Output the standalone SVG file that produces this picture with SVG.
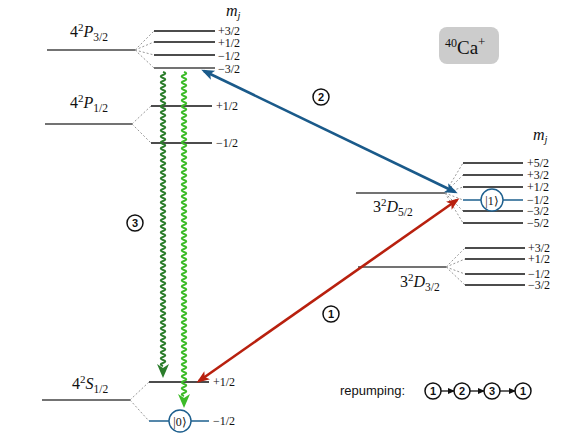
<svg xmlns="http://www.w3.org/2000/svg" width="581" height="436" viewBox="0 0 581 436">
<style>
.main{stroke:#444;stroke-width:1.3;fill:none}
.sub{stroke:#111;stroke-width:1.3;fill:none}
.qb{stroke:#1d5f8e;stroke-width:1.3;fill:none}
.dash{stroke:#999;stroke-width:1;stroke-dasharray:2,2;fill:none}
.lab{font-family:"Liberation Serif",serif;font-size:16px;fill:#111}
.mj{font-family:"Liberation Serif",serif;font-size:12px;fill:#111}
.cn{font-family:"Liberation Sans",Arial,sans-serif;font-size:11px;font-weight:bold;fill:#111;text-anchor:middle}
.cc{fill:#fff;stroke:#111;stroke-width:1.5}
.sans{font-family:"Liberation Sans",Arial,sans-serif;font-size:13px;fill:#111}
</style>
<defs>
<marker id="ab" markerUnits="userSpaceOnUse" markerWidth="14" markerHeight="12" refX="10" refY="5" orient="auto-start-reverse"><path d="M0,0 L13,5 L0,10 L3,5 z" fill="#1a5a8a"/></marker>
<marker id="ar" markerUnits="userSpaceOnUse" markerWidth="14" markerHeight="12" refX="10" refY="5" orient="auto-start-reverse"><path d="M0,0 L13,5 L0,10 L3,5 z" fill="#b8200e"/></marker>
<marker id="ak" markerUnits="userSpaceOnUse" markerWidth="8" markerHeight="8" refX="6" refY="3" orient="auto"><path d="M0,0 L7,3 L0,6 z" fill="#111"/></marker>
</defs>

<g id="P32">
<line class="main" x1="47" y1="50" x2="135" y2="50"/>
<line class="dash" x1="135" y1="50" x2="154" y2="31"/>
<line class="dash" x1="135" y1="50" x2="154" y2="42"/>
<line class="dash" x1="135" y1="50" x2="154" y2="55"/>
<line class="dash" x1="135" y1="50" x2="154" y2="68"/>
<line class="sub" x1="154" y1="31" x2="215" y2="31"/>
<line class="sub" x1="154" y1="42" x2="215" y2="42"/>
<line class="sub" x1="154" y1="55" x2="215" y2="55"/>
<line class="main" x1="154" y1="68" x2="215" y2="68"/>
<text class="lab" x="70" y="37">4<tspan dy="-6" font-size="11">2</tspan><tspan dy="6" font-style="italic">P</tspan><tspan dy="4" font-size="11.5">3/2</tspan></text>
<text class="mj" x="218" y="35">+3/2</text>
<text class="mj" x="218" y="47">+1/2</text>
<text class="mj" x="218" y="60">−1/2</text>
<text class="mj" x="218" y="73">−3/2</text>
<text class="lab" x="226" y="16"><tspan font-style="italic">m</tspan><tspan dy="3" font-size="10.5" font-style="italic">j</tspan></text>
</g>

<g id="P12">
<line class="main" x1="45" y1="124" x2="132" y2="124"/>
<line class="dash" x1="132" y1="124" x2="151" y2="106"/>
<line class="dash" x1="132" y1="124" x2="151" y2="143"/>
<line class="sub" x1="151" y1="106" x2="212" y2="106"/>
<line class="sub" x1="151" y1="143" x2="212" y2="143"/>
<text class="lab" x="70" y="108">4<tspan dy="-6" font-size="11">2</tspan><tspan dy="6" font-style="italic">P</tspan><tspan dy="4" font-size="11.5">1/2</tspan></text>
<text class="mj" x="216" y="110">+1/2</text>
<text class="mj" x="216" y="147">−1/2</text>
</g>

<g id="S12">
<line class="main" x1="42" y1="400" x2="130" y2="400"/>
<line class="dash" x1="130" y1="400" x2="149" y2="382"/>
<line class="dash" x1="130" y1="400" x2="149" y2="421"/>
<line class="sub" x1="149" y1="382" x2="209" y2="382"/>
<line class="qb" x1="149" y1="421" x2="209" y2="421"/>
<circle cx="180" cy="421" r="11" fill="#fff" stroke="#1d5f8e" stroke-width="1.4"/>
<text class="mj" x="180" y="425.5" text-anchor="middle">|0⟩</text>
<text class="lab" x="72" y="389">4<tspan dy="-6" font-size="11">2</tspan><tspan dy="6" font-style="italic">S</tspan><tspan dy="4" font-size="11.5">1/2</tspan></text>
<text class="mj" x="213" y="386">+1/2</text>
<text class="mj" x="213" y="425">−1/2</text>
</g>

<g id="D52">
<line class="main" x1="356" y1="193" x2="445" y2="193"/>
<line class="dash" x1="445" y1="193" x2="463" y2="163"/>
<line class="dash" x1="445" y1="193" x2="463" y2="175"/>
<line class="dash" x1="445" y1="193" x2="463" y2="187"/>
<line class="dash" x1="445" y1="193" x2="463" y2="200"/>
<line class="dash" x1="445" y1="193" x2="463" y2="211"/>
<line class="dash" x1="445" y1="193" x2="463" y2="223"/>
<line class="sub" x1="463" y1="163" x2="523" y2="163"/>
<line class="sub" x1="463" y1="175" x2="523" y2="175"/>
<line class="sub" x1="463" y1="187" x2="523" y2="187"/>
<line class="qb" x1="463" y1="200" x2="523" y2="200"/>
<line class="sub" x1="463" y1="211" x2="523" y2="211"/>
<line class="sub" x1="463" y1="223" x2="523" y2="223"/>
<circle cx="492" cy="200" r="11" fill="#fff" stroke="#1d5f8e" stroke-width="1.4"/>
<text class="mj" x="492" y="204.5" text-anchor="middle">|1⟩</text>
<text class="lab" x="373" y="212">3<tspan dy="-6" font-size="11">2</tspan><tspan dy="6" font-style="italic">D</tspan><tspan dy="4" font-size="11.5">5/2</tspan></text>
<text class="mj" x="527" y="167">+5/2</text>
<text class="mj" x="527" y="179">+3/2</text>
<text class="mj" x="527" y="191">+1/2</text>
<text class="mj" x="527" y="204">−1/2</text>
<text class="mj" x="527" y="215">−3/2</text>
<text class="mj" x="527" y="227">−5/2</text>
<text class="lab" x="533" y="140"><tspan font-style="italic">m</tspan><tspan dy="3" font-size="10.5" font-style="italic">j</tspan></text>
</g>

<g id="D32">
<line class="main" x1="358" y1="267" x2="446" y2="267"/>
<line class="dash" x1="446" y1="267" x2="465" y2="248"/>
<line class="dash" x1="446" y1="267" x2="465" y2="259"/>
<line class="dash" x1="446" y1="267" x2="465" y2="274"/>
<line class="dash" x1="446" y1="267" x2="465" y2="285"/>
<line class="sub" x1="465" y1="248" x2="525" y2="248"/>
<line class="sub" x1="465" y1="259" x2="525" y2="259"/>
<line class="sub" x1="465" y1="274" x2="525" y2="274"/>
<line class="sub" x1="465" y1="285" x2="525" y2="285"/>
<text class="lab" x="400" y="287">3<tspan dy="-6" font-size="11">2</tspan><tspan dy="6" font-style="italic">D</tspan><tspan dy="4" font-size="11.5">3/2</tspan></text>
<text class="mj" x="528" y="252">+3/2</text>
<text class="mj" x="528" y="263">+1/2</text>
<text class="mj" x="528" y="278">−1/2</text>
<text class="mj" x="528" y="289">−3/2</text>
</g>

<g id="ion">
<rect x="439" y="27" width="60" height="37" rx="8" fill="#cccccc"/>
<text class="lab" x="445" y="54"><tspan font-size="12" dy="-7">40</tspan><tspan dy="7" font-size="19">Ca</tspan><tspan font-size="13" dy="-8">+</tspan></text>
</g>

<g id="connectors">
<line x1="204" y1="71" x2="455" y2="192" stroke="#1a5a8a" stroke-width="2.6" marker-start="url(#ab)" marker-end="url(#ab)"/>
<line x1="199" y1="381" x2="457" y2="200" stroke="#b8200e" stroke-width="2.6" marker-start="url(#ar)" marker-end="url(#ar)"/>
<path d="M163,72 q4.5,1.5 0,3 t0,3t0,3t0,3t0,3t0,3t0,3t0,3t0,3t0,3t0,3 t0,3t0,3t0,3t0,3t0,3t0,3t0,3t0,3t0,3t0,3 t0,3t0,3t0,3t0,3t0,3t0,3t0,3t0,3t0,3t0,3 t0,3t0,3t0,3t0,3t0,3t0,3t0,3t0,3t0,3t0,3 t0,3t0,3t0,3t0,3t0,3t0,3t0,3t0,3t0,3t0,3 t0,3t0,3t0,3t0,3t0,3t0,3t0,3t0,3t0,3t0,3 t0,3t0,3t0,3t0,3t0,3t0,3t0,3t0,3t0,3t0,3 t0,3t0,3t0,3t0,3t0,3t0,3t0,3t0,3t0,3t0,3 t0,3t0,3t0,3t0,3t0,3t0,3t0,3t0,3t0,3t0,3 t0,3t0,3t0,3t0,3t0,3t0,3t0,3" fill="none" stroke="#2b7d2b" stroke-width="2"/>
<path d="M157,364 L163,378 L169,364 L163,368 z" fill="#2b7d2b"/>
<path d="M184,72 q4.5,1.5 0,3 t0,3t0,3t0,3t0,3t0,3t0,3t0,3t0,3t0,3t0,3 t0,3t0,3t0,3t0,3t0,3t0,3t0,3t0,3t0,3t0,3 t0,3t0,3t0,3t0,3t0,3t0,3t0,3t0,3t0,3t0,3 t0,3t0,3t0,3t0,3t0,3t0,3t0,3t0,3t0,3t0,3 t0,3t0,3t0,3t0,3t0,3t0,3t0,3t0,3t0,3t0,3 t0,3t0,3t0,3t0,3t0,3t0,3t0,3t0,3t0,3t0,3 t0,3t0,3t0,3t0,3t0,3t0,3t0,3t0,3t0,3t0,3 t0,3t0,3t0,3t0,3t0,3t0,3t0,3t0,3t0,3t0,3 t0,3t0,3t0,3t0,3t0,3t0,3t0,3t0,3t0,3t0,3 t0,3t0,3t0,3t0,3t0,3t0,3t0,3t0,3t0,3t0,3 t0,3t0,3t0,3t0,3t0,3t0,3t0,3" fill="none" stroke="#3cbb28" stroke-width="2"/>
<path d="M178,394 L184,408 L190,394 L184,398 z" fill="#3cbb28"/>
</g>

<g id="labels">
<circle class="cc" cx="321" cy="97" r="8"/><text class="cn" x="321" y="101">2</text>
<circle class="cc" cx="331" cy="314" r="8"/><text class="cn" x="331" y="318">1</text>
<circle class="cc" cx="135" cy="223" r="8"/><text class="cn" x="135" y="227">3</text>
</g>

<g id="repumping">
<text class="sans" x="340" y="395">repumping:</text>
<circle class="cc" cx="433" cy="391" r="8"/><text class="cn" x="433" y="395">1</text>
<circle class="cc" cx="462" cy="391" r="8"/><text class="cn" x="462" y="395">2</text>
<circle class="cc" cx="492" cy="391" r="8"/><text class="cn" x="492" y="395">3</text>
<circle class="cc" cx="523" cy="391" r="8"/><text class="cn" x="523" y="395">1</text>
<line x1="441" y1="391" x2="454" y2="391" stroke="#111" stroke-width="1.3" marker-end="url(#ak)"/>
<line x1="470" y1="391" x2="484" y2="391" stroke="#111" stroke-width="1.3" marker-end="url(#ak)"/>
<line x1="500" y1="391" x2="515" y2="391" stroke="#111" stroke-width="1.3" marker-end="url(#ak)"/>
</g>
</svg>
